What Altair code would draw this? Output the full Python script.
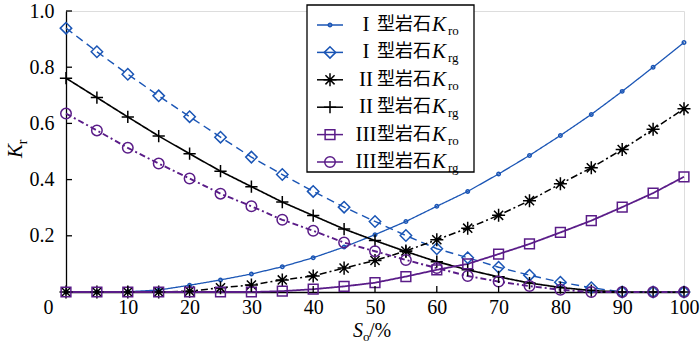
import altair as alt
import pandas as pd

# ---------------- data ----------------
so = list(range(0, 101, 5))
k1_ro = [0, 0, 0.001, 0.007, 0.024, 0.043, 0.064, 0.09, 0.122, 0.16, 0.204, 0.251, 0.305, 0.358, 0.42, 0.486, 0.557, 0.632, 0.714, 0.8, 0.888]
k1_rg = [0.939, 0.855, 0.775, 0.698, 0.624, 0.551, 0.48, 0.418, 0.358, 0.302, 0.251, 0.201, 0.154, 0.122, 0.088, 0.06, 0.035, 0.015, 0, 0, 0]
k2_ro = [0, 0, 0, 0, 0.003, 0.015, 0.025, 0.043, 0.057, 0.085, 0.112, 0.146, 0.186, 0.227, 0.273, 0.325, 0.385, 0.442, 0.507, 0.579, 0.652]
k2_rg = [0.761, 0.692, 0.623, 0.555, 0.492, 0.43, 0.375, 0.32, 0.272, 0.224, 0.183, 0.144, 0.108, 0.079, 0.054, 0.032, 0.016, 0.005, 0, 0, 0]
k3_ro = [0, 0, 0, 0, 0, 0, 0, 0.003, 0.01, 0.02, 0.033, 0.055, 0.079, 0.1, 0.135, 0.171, 0.212, 0.254, 0.302, 0.352, 0.41]
k3_rg = [0.635, 0.575, 0.513, 0.457, 0.404, 0.35, 0.305, 0.257, 0.218, 0.176, 0.145, 0.114, 0.085, 0.057, 0.037, 0.021, 0.008, 0, 0, 0, 0]

series = ["Ⅰ型岩石Kro", "Ⅰ型岩石Krg", "Ⅱ型岩石Kro", "Ⅱ型岩石Krg", "Ⅲ型岩石Kro", "Ⅲ型岩石Krg"]
numerals = ["I", "I", "II", "II", "III", "III"]
subs = ["ro", "rg", "ro", "rg", "ro", "rg"]
values = [k1_ro, k1_rg, k2_ro, k2_rg, k3_ro, k3_rg]
x_ticks = list(range(0, 101, 10))
y_ticks = [0.2, 0.4, 0.6, 0.8, 1.0]

# ---------------- styles ----------------
BLUE = "#1a55b5"
PURPLE = "#5a1c88"
colors = [BLUE, BLUE, "black", "black", PURPLE, PURPLE]
dashes = [[1, 0], [8, 5], [7, 3, 2, 3], [1, 0], [1, 0], [6, 3, 2, 3]]
widths = [1.3, 1.9, 1.9, 1.3, 1.3, 1.7]
ASTER = "M-1,0L1,0M0,-1L0,1M-0.7,-0.7L0.7,0.7M-0.7,0.7L0.7,-0.7"
PLUS = "M-1,0L1,0M0,-1L0,1"
shapes = ["circle", "diamond", ASTER, PLUS, "square", "circle"]
sizes = [12, 130, 170, 150, 95, 110]
SERIF = "Liberation Serif"

rows = []
for s, vals in zip(series, values):
    for x, v in zip(so, vals):
        rows.append({"series": s, "so": x, "kr": v})
df = pd.DataFrame(rows)

W, H = 618, 281

color_enc = alt.Color("series:N", scale=alt.Scale(domain=series, range=colors), legend=None)

x_axis = alt.Axis(
    values=x_ticks, ticks=False, grid=False, title=None,
    domainColor="black", domainWidth=1.3,
    labelFont=SERIF, labelFontSize=20, labelColor="black",
    labelPadding=5, labelFlush=False,
    labelOffset={"condition": {"test": "datum.value === 0", "value": -18}, "value": 0},
)
y_axis = alt.Axis(
    values=y_ticks, ticks=False, grid=False, title=None, format=".1f",
    domainColor="black", domainWidth=1.3,
    labelFont=SERIF, labelFontSize=20, labelColor="black",
    labelPadding=12, labelFlush=False,
)
x_enc = alt.X("so:Q", scale=alt.Scale(domain=[0, 100], nice=False), axis=x_axis)
y_enc = alt.Y("kr:Q", scale=alt.Scale(domain=[0, 1], nice=False), axis=y_axis)

lines = alt.Chart(df).mark_line().encode(
    x=x_enc, y=y_enc, color=color_enc,
    strokeDash=alt.StrokeDash("series:N", scale=alt.Scale(domain=series, range=dashes), legend=None),
    strokeWidth=alt.StrokeWidth("series:N", scale=alt.Scale(domain=series, range=widths), legend=None),
    detail="series:N",
)

# one point layer per series (fixed shape and size)
point_layers = []
for s, shp, sz in zip(series, shapes, sizes):
    point_layers.append(
        alt.Chart(df).transform_filter(alt.datum.series == s)
        .mark_point(filled=False, strokeWidth=1.5, opacity=1, shape=shp, size=sz)
        .encode(x=x_enc, y=y_enc, color=color_enc)
    )

# inward ticks (same fields as the main layers so axes merge cleanly)
xt = alt.Chart(pd.DataFrame({"so": x_ticks[1:]})).mark_rule(color="black", strokeWidth=1.3).encode(
    x=x_enc, y=alt.value(H), y2=alt.value(H - 6)
)
yt = alt.Chart(pd.DataFrame({"kr": y_ticks})).mark_rule(color="black", strokeWidth=1.3).encode(
    y=y_enc, x=alt.value(0), x2=alt.value(6)
)

one = pd.DataFrame({"a": [0]})

# axis titles
ytitle_k = alt.Chart(one).mark_text(text="K", font=SERIF, fontStyle="italic", fontSize=21, angle=270,
                                    align="center", baseline="middle", color="black").encode(
    x=alt.value(-50), y=alt.value(140))
ytitle_r = alt.Chart(one).mark_text(text="r", font=SERIF, fontSize=14, angle=270,
                                    align="center", baseline="middle", color="black").encode(
    x=alt.value(-43), y=alt.value(131))
xtitle_s = alt.Chart(one).mark_text(text="S", font=SERIF, fontStyle="italic", fontSize=20,
                                    align="left", baseline="middle", color="black").encode(
    x=alt.value(287), y=alt.value(320))
xtitle_o = alt.Chart(one).mark_text(text="o", font=SERIF, fontSize=13,
                                    align="left", baseline="middle", color="black").encode(
    x=alt.value(297), y=alt.value(326))
xtitle_p = alt.Chart(one).mark_text(text="/%", font=SERIF, fontSize=20,
                                    align="left", baseline="middle", color="black").encode(
    x=alt.value(303), y=alt.value(320))

# legend
leg = pd.DataFrame({"series": series, "num": numerals, "sub": subs, "idx": list(range(6))})
legbase = alt.Chart(leg).transform_calculate(ly="14 + datum.idx * 27.4")
ly = alt.Y("ly:Q", scale=None, axis=None)

leg_box = alt.Chart(one).mark_rect(fill="white", stroke="black", strokeWidth=1.3).encode(
    x=alt.value(241), x2=alt.value(408), y=alt.value(-6), y2=alt.value(161))
leg_line = legbase.mark_rule(strokeWidth=1.5).encode(
    y=ly, x=alt.value(251), x2=alt.value(277), color=color_enc)
leg_pts = []
for s, shp, sz in zip(series, shapes, sizes):
    leg_pts.append(
        legbase.transform_filter(alt.datum.series == s)
        .mark_point(filled=False, strokeWidth=1.5, opacity=1, shape=shp, size=sz)
        .encode(y=ly, x=alt.value(264), color=color_enc)
    )
leg_num = legbase.mark_text(font=SERIF, fontSize=21, align="center", baseline="middle", color="black").encode(
    y=ly, x=alt.value(300), text="num:N")
leg_cjk = legbase.mark_text(text="型岩石", font="Noto Sans CJK SC", fontSize=18, align="left",
                            baseline="middle", color="black").encode(y=ly, x=alt.value(311))
leg_k = legbase.mark_text(text="K", font=SERIF, fontStyle="italic", fontSize=21, align="left",
                          baseline="middle", color="black").encode(y=ly, x=alt.value(366))
leg_sub = legbase.mark_text(font=SERIF, fontSize=13, align="left", baseline="middle", color="black",
                            dy=6).encode(y=ly, x=alt.value(382), text="sub:N")

chart = alt.layer(
    lines, *point_layers, xt, yt, ytitle_k, ytitle_r, xtitle_s, xtitle_o, xtitle_p,
    leg_box, leg_line, *leg_pts, leg_num, leg_cjk, leg_k, leg_sub,
).properties(
    width=W, height=H,
    autosize=alt.AutoSizeParams(type="none"),
    padding={"left": 66, "top": 11, "right": 16, "bottom": 62},
).configure_view(stroke=None).configure(background="white")

chart.save("out.html", embed_options={"renderer": "svg", "actions": False})
